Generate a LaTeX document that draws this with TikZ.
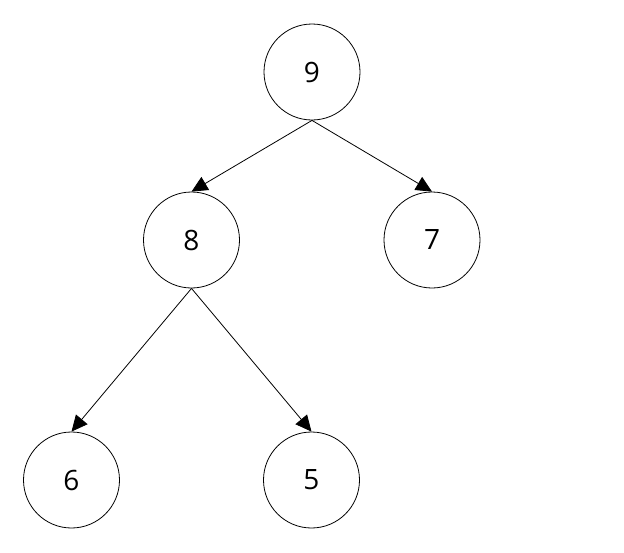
\documentclass[tikz,border=0pt]{standalone}
\usepackage{fontspec}
\setmainfont{Open Sans}
\usetikzlibrary{arrows.meta, positioning}

\begin{document}
\begin{tikzpicture}[x=1pt, y=-1pt,
    heapnode/.style={draw, circle, minimum size=96pt, inner sep=0pt, line width=0.8pt,
      font=\fontsize{28}{34}\selectfont},
    heaparrow/.style={-{Triangle[length=16pt, width=15pt]}, line width=0.8pt}]
  \useasboundingbox (0,0) rectangle (624,552);
  \node[heapnode] (n9) at (312,72) {9};
  \node[heapnode] (n8) at (191.5,240) {8};
  \node[heapnode] (n7) at (432,240) {7};
  \node[heapnode] (n6) at (71.5,480) {6};
  \node[heapnode] (n5) at (311.5,480) {5};
  \draw[heaparrow] (n9.south) -- (n8.north);
  \draw[heaparrow] (n9.south) -- (n7.north);
  \draw[heaparrow] (n8.south) -- (n6.north);
  \draw[heaparrow] (n8.south) -- (n5.north);
\end{tikzpicture}
\end{document}
